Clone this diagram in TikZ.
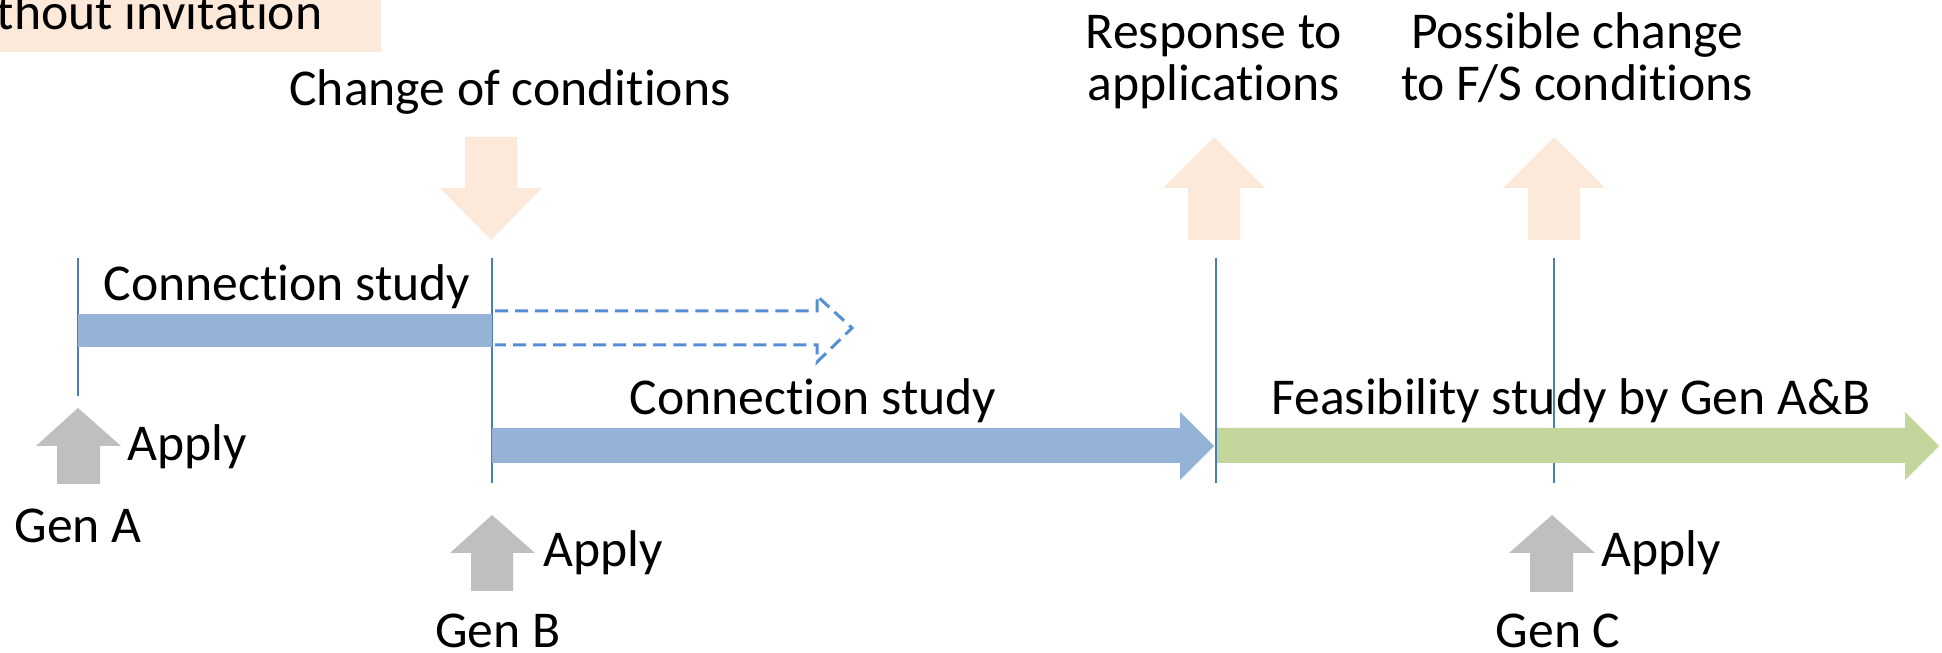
\documentclass[tikz,border=0pt]{standalone}
\usepackage{fontspec}
\setmainfont{Carlito}[Ligatures=NoCommon]
\definecolor{peach}{HTML}{FDE9D9}
\definecolor{barblue}{HTML}{95B3D7}
\definecolor{linkblue}{HTML}{4A7EBB}
\definecolor{dashblue}{HTML}{558ED5}
\definecolor{feasgreen}{HTML}{C3D69B}
\definecolor{applygray}{HTML}{BFBFBF}
\begin{document}
\begin{tikzpicture}[
    x=0.1mm, y=-0.1mm,
    lbl/.style={font=\fontsize{14.7}{15}\selectfont, inner sep=0pt, anchor=base},
    markline/.style={draw=linkblue, line width=0.7pt},
    dasharrow/.style={draw=dashblue, line width=0.85pt, dash pattern=on 3.7pt off 2pt}
]
\useasboundingbox (0,0) rectangle (1942,653);

% Heading box (cut at the left)
\fill[peach] (0,0) rectangle (381,52);
\node[lbl, anchor=base west] (invite) at (-4,30) {thout invitation};

% Time marks
\coordinate (markA) at (78,258);
\coordinate (markB) at (492,258);
\coordinate (markR) at (1216,258);
\coordinate (markC) at (1554,258);
\draw[markline] (markA) -- ++(0,138);
\draw[markline] (markB) -- ++(0,225);
\draw[markline] (markR) -- ++(0,225);
\draw[markline] (markC) -- ++(0,225);

% Events above the line
\fill[peach] (465,137) -- (517,137) -- (517,188) -- (542,188) -- (491,240) -- (440,188) -- (465,188) -- cycle;
\fill[peach] (1214,137) -- (1265,188) -- (1240,188) -- (1240,240) -- (1188,240) -- (1188,188) -- (1163,188) -- cycle;
\fill[peach] (1554,137) -- (1605,188) -- (1580,188) -- (1580,240) -- (1528,240) -- (1528,188) -- (1503,188) -- cycle;
\node[lbl] (change) at (510,106) {Change of conditions};
\node[lbl, align=center] (resp) at (1214,101) {Response to\\applications};
\node[lbl, align=center] (poss) at (1577,101) {Possible change\\to F/S conditions};

% Studies
\fill[barblue] (78,314) rectangle (492,347);
\draw[dasharrow] (495,311) -- (817,311) -- (817,296) -- (852,328) -- (817,362) -- (817,345) -- (495,345);
\fill[barblue] (492,428) -- (1180,428) -- (1180,412) -- (1214,446) -- (1180,480) -- (1180,463) -- (492,463) -- cycle;
\fill[feasgreen] (1217,428) -- (1905,428) -- (1905,412) -- (1939,446) -- (1905,480) -- (1905,463) -- (1217,463) -- cycle;
\node[lbl] (study1) at (287,301) {Connection study};
\node[lbl] (study2) at (813,415) {Connection study};
\node[lbl] (feas) at (1571,415) {Feasibility study by Gen A\&B};

% Applications
\fill[applygray] (78,408) -- (121,446) -- (100,446) -- (100,484) -- (57,484) -- (57,446) -- (36,446) -- cycle;
\fill[applygray] (492,515) -- (535,553) -- (513,553) -- (513,591) -- (471,591) -- (471,553) -- (450,553) -- cycle;
\fill[applygray] (1552,515) -- (1595,553) -- (1573,553) -- (1573,592) -- (1530,592) -- (1530,553) -- (1509,553) -- cycle;
\node[lbl, anchor=base west] (applyA) at (127,461) {Apply};
\node[lbl] (genA) at (78,543) {Gen A};
\node[lbl, anchor=base west] (applyB) at (543,567) {Apply};
\node[lbl] (genB) at (498,648) {Gen B};
\node[lbl, anchor=base west] (applyC) at (1601,567) {Apply};
\node[lbl] (genC) at (1558,648) {Gen C};
\end{tikzpicture}
\end{document}
